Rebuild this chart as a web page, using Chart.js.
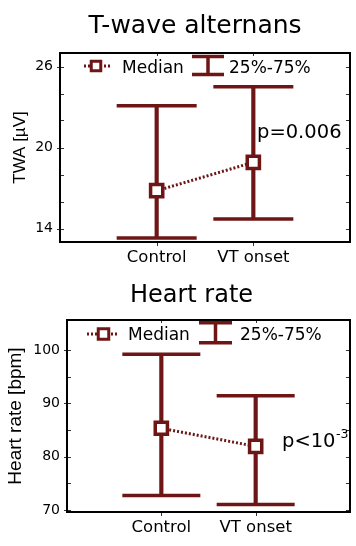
<!DOCTYPE html>
<html><head><meta charset="utf-8">
<script src="https://cdn.jsdelivr.net/npm/chart.js@4/dist/chart.umd.min.js"></script>
<style>
html,body{margin:0;padding:0;background:#fff;}
#wrap{position:relative;width:356px;height:546px;overflow:hidden;background:#fff;}
canvas{position:absolute;left:0;}
</style></head><body>
<div id="wrap">
<canvas id="c1" width="356" height="268" style="top:0px"></canvas>
<canvas id="c2" width="356" height="278" style="top:268px"></canvas>
</div>
<script>
// ---- data ----
const categories = ['Control', 'VT onset'];
const categoryPositions = [1, 2];

const twaMedian = [16.8, 18.9];
const twaQ25 = [13.3, 14.7];
const twaQ75 = [23.1, 24.5];
const twaTickValues = [14, 16, 18, 20, 22, 24, 26];
const twaTickLabels = ['14', '', '', '20', '', '', '26'];

const hrMedian = [85.3, 81.9];
const hrQ25 = [72.7, 71.0];
const hrQ75 = [99.2, 91.4];
const hrTickValues = [70, 75, 80, 85, 90, 95, 100];
const hrTickLabels = ['70', '', '80', '', '90', '', '100'];

const legendLabels = ['Median', '25%-75%'];

// ---- style ----
const COLOR = '#6e1616';
const FONT = 'DejaVu Sans';
Chart.defaults.font.family = FONT;
Chart.defaults.color = '#000';

function zeroPad(sc) {
  sc.paddingLeft = 0; sc.paddingRight = 0; sc.paddingTop = 0; sc.paddingBottom = 0;
}

function makeChart(canvasId, cfg) {
  const barData = categoryPositions.map((x, i) => ({x: x, y: [cfg.q25[i], cfg.q75[i]]}));
  const capData = [];
  categoryPositions.forEach((x, i) => {
    capData.push({x: x, y: cfg.q75[i]});
    capData.push({x: x, y: cfg.q25[i]});
  });
  const medData = categoryPositions.map((x, i) => ({x: x, y: cfg.median[i]}));

  const deco = {
    id: 'deco_' + canvasId,
    afterDraw(chart) {
      const ctx = chart.ctx;
      const a = chart.chartArea;
      const ys = chart.scales.y, xs = chart.scales.x;
      ctx.save();
      // tick marks
      ctx.strokeStyle = '#333';
      ctx.lineWidth = 1;
      cfg.tickValues.forEach((v, k) => {
        const y = Math.round(ys.getPixelForValue(v)) + 0.5;
        ctx.beginPath();
        ctx.moveTo(a.left, y); ctx.lineTo(a.left + 4, y);
        ctx.moveTo(a.right - 4, y); ctx.lineTo(a.right, y);
        if (cfg.tickLabels[k] !== '') { ctx.moveTo(a.left - 3, y); ctx.lineTo(a.left, y); }
        ctx.stroke();
      });
      categoryPositions.forEach(v => {
        const x = Math.round(xs.getPixelForValue(v)) + 0.5;
        ctx.beginPath();
        ctx.moveTo(x, a.bottom); ctx.lineTo(x, a.bottom + 4);
        ctx.moveTo(x, a.top); ctx.lineTo(x, a.top + 3);
        ctx.stroke();
      });
      // frame
      ctx.strokeStyle = '#000';
      ctx.lineWidth = 2;
      ctx.strokeRect(a.left, a.top, a.right - a.left, a.bottom - a.top);
      // title
      ctx.fillStyle = '#000';
      ctx.textBaseline = 'alphabetic';
      ctx.textAlign = 'center';
      ctx.font = cfg.titleSize + 'px "' + FONT + '"';
      ctx.fillText(cfg.title, cfg.titleX, cfg.titleY);
      // legend
      const L = cfg.legend;
      ctx.strokeStyle = COLOR;
      ctx.lineWidth = 3;
      ctx.setLineDash([2, 2]);
      ctx.beginPath();
      ctx.moveTo(L.dotX0, L.y); ctx.lineTo(L.dotX1, L.y);
      ctx.stroke();
      ctx.setLineDash([]);
      const s = L.sq;
      ctx.fillStyle = '#fff';
      ctx.fillRect(L.sqX - s / 2, L.y - s / 2, s, s);
      ctx.lineWidth = 3;
      ctx.strokeRect(L.sqX - s / 2, L.y - s / 2, s, s);
      ctx.fillStyle = '#000';
      ctx.textAlign = 'left';
      ctx.font = L.size + 'px "' + FONT + '"';
      ctx.fillText(legendLabels[0], L.t1X, L.tY);
      ctx.lineWidth = 3.5;
      ctx.beginPath();
      ctx.moveTo(L.ibX0, L.ibY0); ctx.lineTo(L.ibX1, L.ibY0);
      ctx.moveTo(L.ibX0, L.ibY1); ctx.lineTo(L.ibX1, L.ibY1);
      const mx = (L.ibX0 + L.ibX1) / 2;
      ctx.moveTo(mx, L.ibY0); ctx.lineTo(mx, L.ibY1);
      ctx.stroke();
      ctx.fillText(legendLabels[1], L.t2X, L.tY);
      // p value
      const P = cfg.p;
      ctx.font = P.size + 'px "' + FONT + '"';
      ctx.fillText(P.text, P.x, P.y);
      if (P.sup) {
        const w = ctx.measureText(P.text).width;
        ctx.font = P.supSize + 'px "' + FONT + '"';
        ctx.fillText(P.sup, P.x + w + 0.5, P.supY);
      }
      ctx.restore();
    }
  };

  return new Chart(document.getElementById(canvasId), {
    type: 'bar',
    data: {
      datasets: [
        {
          type: 'line',
          label: legendLabels[0],
          data: medData,
          borderColor: COLOR,
          borderWidth: 3,
          borderDash: [2, 2],
          pointStyle: 'rect',
          pointRadius: 8.6,
          pointBorderWidth: 3.5,
          pointBorderColor: COLOR,
          pointBackgroundColor: '#fff',
          order: 1
        },
        {
          type: 'scatter',
          label: 'caps',
          data: capData,
          pointStyle: 'line',
          pointRadius: cfg.capR,
          pointBorderWidth: 3.5,
          pointBorderColor: COLOR,
          borderColor: COLOR,
          showLine: false,
          order: 2
        },
        {
          type: 'bar',
          label: legendLabels[1],
          data: barData,
          backgroundColor: COLOR,
          borderWidth: 0,
          barThickness: 3.5,
          order: 3
        }
      ]
    },
    options: {
      responsive: false,
      devicePixelRatio: 1,
      animation: false,
      events: [],
      layout: { autoPadding: false, padding: { top: cfg.padTop, right: 6, left: 0, bottom: 0 } },
      plugins: { legend: { display: false }, tooltip: { enabled: false }, title: { display: false } },
      scales: {
        x: {
          type: 'linear',
          min: 0, max: 3,
          offset: false,
          grid: { display: false, drawTicks: false },
          border: { display: false },
          afterBuildTicks: sc => { sc.ticks = categoryPositions.map(v => ({value: v})); },
          afterFit: sc => { sc.height = cfg.xAxisH; zeroPad(sc); },
          ticks: {
            autoSkip: false, maxRotation: 0,
            padding: 6,
            font: { size: 16.5, family: FONT },
            callback: v => { const k = categoryPositions.indexOf(v); return k >= 0 ? categories[k] : ''; }
          }
        },
        y: {
          type: 'linear',
          min: cfg.yMin, max: cfg.yMax,
          grid: { display: false, drawTicks: false },
          border: { display: false },
          afterBuildTicks: sc => { sc.ticks = cfg.tickValues.map(v => ({value: v})); },
          afterFit: sc => { sc.width = cfg.yAxisW; zeroPad(sc); },
          ticks: {
            autoSkip: false,
            padding: 7,
            font: { size: 14, family: FONT },
            callback: v => { const k = cfg.tickValues.indexOf(v); return k >= 0 ? cfg.tickLabels[k] : ''; }
          },
          title: {
            display: true, text: cfg.yTitle,
            font: { size: cfg.yTitleSize, family: 'Liberation Sans' },
            padding: { top: cfg.yTitlePad, bottom: 0 }
          }
        }
      }
    },
    plugins: [deco]
  });
}

makeChart('c1', {
  median: twaMedian, q25: twaQ25, q75: twaQ75,
  tickValues: twaTickValues, tickLabels: twaTickLabels,
  yMin: 13, yMax: 27,
  yTitle: 'TWA [\u00B5V]', yTitleSize: 17, yTitlePad: 10,
  padTop: 53, yAxisW: 60, xAxisH: 26, capR: 40,
  title: 'T-wave alternans', titleSize: 25, titleX: 195, titleY: 33,
  legend: { y: 66, dotX0: 84, dotX1: 111, sqX: 96, sq: 9.5, size: 17, t1X: 122, t2X: 229, tY: 72.5,
            ibX0: 192, ibX1: 224, ibY0: 56.5, ibY1: 74.5 },
  p: { text: 'p=0.006', x: 257, y: 137.5, size: 19.5 }
});

makeChart('c2', {
  median: hrMedian, q25: hrQ25, q75: hrQ75,
  tickValues: hrTickValues, tickLabels: hrTickLabels,
  yMin: 69.6, yMax: 105.6,
  yTitle: 'Heart rate [bpm]', yTitleSize: 19, yTitlePad: 4,
  padTop: 52, yAxisW: 67, xAxisH: 34, capR: 39,
  title: 'Heart rate', titleSize: 24, titleX: 191.5, titleY: 33.7,
  legend: { y: 66, dotX0: 87, dotX1: 118, sqX: 103.5, sq: 10.5, size: 17, t1X: 128, t2X: 240, tY: 72,
            ibX0: 199, ibX1: 232, ibY0: 54.7, ibY1: 74.7 },
  p: { text: 'p<10', x: 282, y: 178.7, size: 19.5, sup: '-3', supSize: 12.5, supY: 170 }
});
</script>
</body></html>
